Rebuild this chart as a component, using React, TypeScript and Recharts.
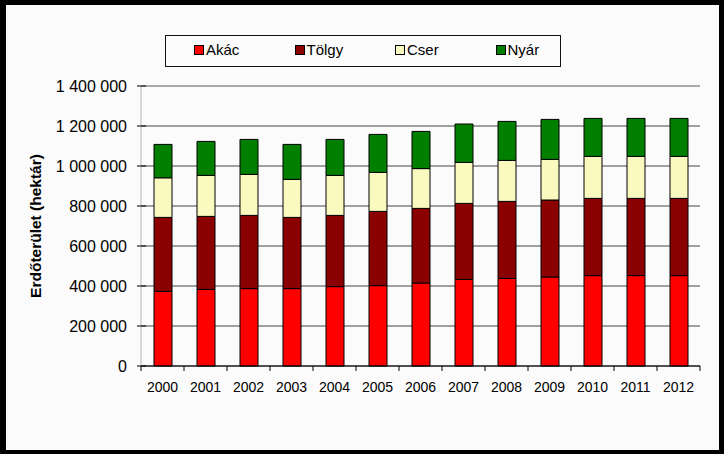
import { Bar, BarChart, CartesianGrid, ReferenceLine, XAxis, YAxis } from "recharts"

const years = ["2000", "2001", "2002", "2003", "2004", "2005", "2006", "2007", "2008", "2009", "2010", "2011", "2012"]
const akac = [373000, 383000, 387000, 387000, 397000, 402000, 415000, 433000, 438000, 445000, 452000, 452000, 452000]
const tolgy = [370000, 365000, 366000, 356000, 356000, 371000, 373000, 380000, 385000, 385000, 386000, 386000, 386000]
const cser = [198000, 205000, 205000, 190000, 200000, 195000, 199000, 205000, 205000, 203000, 210000, 210000, 210000]
const nyar = [167000, 170000, 175000, 175000, 180000, 190000, 186000, 192000, 195000, 200000, 190000, 190000, 190000]
const yTicks = [0, 200000, 400000, 600000, 800000, 1000000, 1200000, 1400000]

const series = [
  { key: "akac", name: "Akác", color: "#ff0000" },
  { key: "tolgy", name: "Tölgy", color: "#8b0000" },
  { key: "cser", name: "Cser", color: "#fafac0" },
  { key: "nyar", name: "Nyár", color: "#007f00" },
]

const data = years.map((year, i) => ({
  year,
  akac: akac[i],
  tolgy: tolgy[i],
  cser: cser[i],
  nyar: nyar[i],
}))

const FONT = '"Liberation Sans", Arial, sans-serif'
const W = 724
const H = 454
const margin = { top: 86, right: 24, bottom: 58, left: 51 }
const yAxisWidth = 90
const plotWidth = W - margin.left - margin.right - yAxisWidth
const halfBand = plotWidth / years.length / 2

const fmt = (v: number) => v.toString().replace(/\B(?=(\d{3})+(?!\d))/g, "\u00a0")

function YTick(props: any) {
  const { x, y, payload } = props
  return (
    <g>
      <line x1={x - 4} x2={x + 5} y1={y} y2={y} stroke="#000" />
      <text x={x - 14} y={y + 5.5} textAnchor="end" fontSize={16} fontFamily={FONT} fill="#000">
        {fmt(payload.value)}
      </text>
    </g>
  )
}

function XTick(props: any) {
  const { x, y, payload, index } = props
  const last = index === years.length - 1
  return (
    <g>
      <line x1={x - halfBand} x2={x - halfBand} y1={y} y2={y + 5} stroke="#000" />
      {last && <line x1={x + halfBand} x2={x + halfBand} y1={y} y2={y + 5} stroke="#000" />}
      <text x={x} y={y + 26} textAnchor="middle" fontSize={14} fontFamily={FONT} fill="#000">
        {payload.value}
      </text>
    </g>
  )
}

function YTitle(props: any) {
  const { viewBox } = props
  const cx = viewBox.x - 16
  const cy = viewBox.y + viewBox.height / 2
  return (
    <text
      transform={`translate(${cx},${cy}) rotate(-90)`}
      textAnchor="middle"
      dominantBaseline="central"
      fontSize={15.5}
      fontWeight="bold"
      fontFamily={FONT}
      fill="#000"
    >
      Erdőterület (hektár)
    </text>
  )
}

export default function App() {
  return (
    <div style={{ position: "absolute", left: 0, top: 0, width: W, height: H, background: "#000" }}>
      <div style={{ position: "absolute", left: 6, top: 5, width: 713, height: 445, background: "#fbfbfb" }} />
      <div
        style={{
          position: "absolute",
          left: 165,
          top: 35,
          width: 394,
          height: 30,
          border: "1px solid #111",
          background: "#fbfbfb",
          fontFamily: FONT,
          fontSize: 15,
        }}
      >
        {series.map((s, i) => (
          <div
            key={s.key}
            style={{
              position: "absolute",
              left: 28 + i * 100.5,
              top: 5,
              display: "flex",
              alignItems: "center",
              whiteSpace: "nowrap",
            }}
          >
            <span
              style={{
                display: "inline-block",
                width: 8,
                height: 8,
                background: s.color,
                border: "1px solid #000",
                marginRight: 2,
              }}
            />
            <span>{s.name}</span>
          </div>
        ))}
      </div>
      <div style={{ position: "absolute", left: 0, top: 0 }}>
        <BarChart width={W} height={H} data={data} margin={margin} barSize={18}>
          <CartesianGrid vertical={false} stroke="#444" />
          <XAxis
            dataKey="year"
            axisLine={{ stroke: "#000" }}
            tickLine={false}
            tickSize={0}
            tickMargin={0}
            height={30}
            tick={<XTick />}
            interval={0}
          />
          <YAxis
            domain={[0, 1400000]}
            ticks={yTicks}
            width={yAxisWidth}
            axisLine={{ stroke: "#b4b4b4" }}
            tickLine={false}
            tickSize={0}
            tickMargin={0}
            tick={<YTick />}
            label={{ content: <YTitle /> }}
            interval={0}
          />
          <YAxis
            yAxisId="right"
            orientation="right"
            domain={[0, 1400000]}
            width={0}
            tick={false}
            tickLine={false}
            axisLine={{ stroke: "#b4b4b4" }}
          />
          <ReferenceLine y={1400000} stroke="#b4b4b4" />
          {series.map((s) => (
            <Bar
              key={s.key}
              dataKey={s.key}
              name={s.name}
              stackId="a"
              fill={s.color}
              stroke="#000"
              strokeWidth={1}
              isAnimationActive={false}
            />
          ))}
        </BarChart>
      </div>
    </div>
  )
}
